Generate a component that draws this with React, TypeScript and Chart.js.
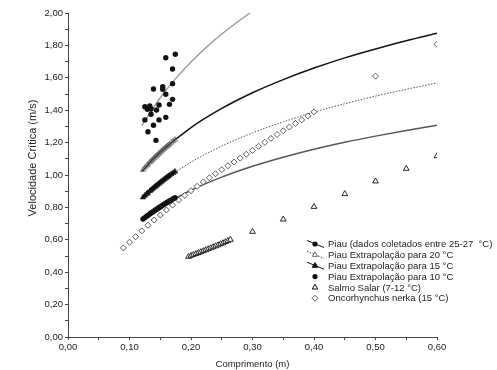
import React, { useEffect, useRef } from "react";
import { Chart, registerables } from "chart.js";

Chart.register(...registerables);

// ---------- data ----------
const legendLabels = [
  "Piau (dados coletados entre 25-27  °C)",
  "Piau Extrapolação para 20 °C",
  "Piau Extrapolação para 15 °C",
  "Piau Extrapolação para 10 °C",
  "Salmo Salar (7-12 °C)",
  "Oncorhynchus nerka (15 °C)",
];

const piauX = [0.159, 0.1745, 0.170, 0.170, 0.139, 0.154, 0.154, 0.159, 0.170, 0.165, 0.148, 0.125, 0.133, 0.129, 0.135, 0.144, 0.135, 0.125, 0.139, 0.148, 0.159, 0.130, 0.143];
const piauY = [1.724, 1.745, 1.654, 1.564, 1.531, 1.545, 1.529, 1.498, 1.467, 1.436, 1.432, 1.422, 1.426, 1.406, 1.407, 1.401, 1.375, 1.340, 1.307, 1.340, 1.356, 1.267, 1.214];

const piauFitX = [0.12, 0.15, 0.175, 0.2, 0.225, 0.25, 0.275, 0.296];
const piauFitY = [1.305, 1.477, 1.595, 1.698, 1.789, 1.870, 1.943, 2.0];

const clusterX = [0.122, 0.125, 0.128, 0.130, 0.133, 0.135, 0.137, 0.139, 0.141, 0.143, 0.145, 0.147, 0.149, 0.151, 0.153, 0.155, 0.157, 0.159, 0.161, 0.163, 0.165, 0.168, 0.171, 0.174];
const ext20Y = [1.032, 1.045, 1.058, 1.066, 1.078, 1.085, 1.093, 1.101, 1.108, 1.116, 1.123, 1.130, 1.137, 1.144, 1.151, 1.158, 1.164, 1.171, 1.178, 1.184, 1.190, 1.200, 1.209, 1.218];
const ext15Y = [0.862, 0.873, 0.884, 0.890, 0.901, 0.907, 0.914, 0.920, 0.927, 0.933, 0.939, 0.945, 0.951, 0.957, 0.963, 0.969, 0.975, 0.981, 0.987, 0.992, 0.998, 1.006, 1.013, 1.021];
const ext10Y = [0.728, 0.737, 0.745, 0.751, 0.759, 0.765, 0.770, 0.775, 0.781, 0.786, 0.791, 0.796, 0.801, 0.806, 0.811, 0.816, 0.821, 0.826, 0.831, 0.835, 0.840, 0.846, 0.853, 0.860];

const fitX = [0.12, 0.15, 0.2, 0.25, 0.3, 0.35, 0.4, 0.45, 0.5, 0.55, 0.6];
const fit20Y = [1.022, 1.140, 1.293, 1.411, 1.508, 1.589, 1.660, 1.723, 1.778, 1.829, 1.875];
const fit15Y = [0.852, 0.951, 1.079, 1.178, 1.260, 1.328, 1.388, 1.440, 1.487, 1.529, 1.568];
const fit10Y = [0.720, 0.801, 0.906, 0.987, 1.054, 1.110, 1.159, 1.202, 1.240, 1.275, 1.307];

const salmoX = [0.196, 0.200, 0.204, 0.208, 0.212, 0.216, 0.220, 0.224, 0.228, 0.232, 0.236, 0.240, 0.244, 0.248, 0.252, 0.256, 0.260, 0.264, 0.30, 0.35, 0.40, 0.45, 0.50, 0.55, 0.60];
const salmoY = [0.496, 0.502, 0.508, 0.513, 0.519, 0.525, 0.531, 0.537, 0.543, 0.549, 0.555, 0.561, 0.567, 0.574, 0.580, 0.587, 0.594, 0.601, 0.650, 0.726, 0.804, 0.883, 0.961, 1.039, 1.117];

const oncoX = [0.09, 0.10, 0.11, 0.12, 0.13, 0.14, 0.15, 0.16, 0.17, 0.18, 0.19, 0.20, 0.21, 0.22, 0.23, 0.24, 0.25, 0.26, 0.27, 0.28, 0.29, 0.30, 0.31, 0.32, 0.33, 0.34, 0.35, 0.36, 0.37, 0.38, 0.39, 0.40, 0.50, 0.60];
const oncoY = [0.550, 0.585, 0.619, 0.655, 0.690, 0.722, 0.753, 0.784, 0.814, 0.845, 0.874, 0.903, 0.930, 0.957, 0.983, 1.008, 1.033, 1.057, 1.080, 1.104, 1.128, 1.152, 1.177, 1.202, 1.226, 1.250, 1.273, 1.296, 1.318, 1.340, 1.365, 1.390, 1.610, 1.807];

const xMin = 0, xMax = 0.6, xStep = 0.05, xLabelStep = 0.1;
const yMin = 0, yMax = 2.0, yStep = 0.1, yLabelStep = 0.2;

// ---------- helpers ----------
const pts = (xs: number[], ys: number[]) => xs.map((x, i) => ({ x, y: ys[i] }));
const fmt = (v: number) => v.toFixed(2).replace(".", ",");
const isMult = (v: number, s: number) => Math.abs(v / s - Math.round(v / s)) < 1e-6;
const FONT = '"Liberation Sans", Arial, sans-serif';
const TEXT = "#222";

function drawTri(ctx: CanvasRenderingContext2D, x: number, y: number, r: number, fill: boolean) {
  ctx.beginPath();
  ctx.moveTo(x, y - r);
  ctx.lineTo(x + r * 0.866, y + r * 0.5);
  ctx.lineTo(x - r * 0.866, y + r * 0.5);
  ctx.closePath();
  if (fill) ctx.fill();
  ctx.stroke();
}

const legendPlugin = {
  id: "customLegend",
  afterDraw(chart: any) {
    const ctx: CanvasRenderingContext2D = chart.ctx;
    ctx.save();
    const ix = 315, tx = 328, y0 = 244, dy = 10.85;
    legendLabels.forEach((lab, i) => {
      const y = y0 + i * dy;
      ctx.strokeStyle = "#111";
      ctx.fillStyle = "#111";
      ctx.lineWidth = 1;
      ctx.setLineDash([]);
      if (i === 0) {
        ctx.beginPath(); ctx.moveTo(ix - 8, y - 3.5); ctx.lineTo(ix + 9, y + 3.5); ctx.stroke();
        ctx.beginPath(); ctx.arc(ix, y, 2.6, 0, Math.PI * 2); ctx.fill();
      } else if (i === 1) {
        ctx.strokeStyle = "#444";
        ctx.setLineDash([1.5, 1.5]);
        ctx.beginPath(); ctx.moveTo(ix - 8, y - 3.5); ctx.lineTo(ix + 9, y + 3.5); ctx.stroke();
        ctx.setLineDash([]);
        ctx.lineWidth = 0.8;
        ctx.fillStyle = "#fff";
        drawTri(ctx, ix, y, 3, true);
      } else if (i === 2) {
        ctx.beginPath(); ctx.moveTo(ix - 8, y - 3.5); ctx.lineTo(ix + 9, y + 3.5); ctx.stroke();
        drawTri(ctx, ix, y, 3.2, true);
      } else if (i === 3) {
        ctx.beginPath(); ctx.arc(ix, y, 2.6, 0, Math.PI * 2); ctx.fill();
      } else if (i === 4) {
        ctx.fillStyle = "#fff";
        drawTri(ctx, ix, y, 3.2, true);
      } else {
        ctx.fillStyle = "#fff";
        ctx.strokeStyle = "#333";
        ctx.lineWidth = 0.8;
        ctx.beginPath();
        ctx.moveTo(ix, y - 3); ctx.lineTo(ix + 3, y); ctx.lineTo(ix, y + 3); ctx.lineTo(ix - 3, y); ctx.closePath();
        ctx.fill(); ctx.stroke();
      }
      ctx.fillStyle = TEXT;
      ctx.font = `9.5px ${FONT}`;
      ctx.textAlign = "left";
      ctx.textBaseline = "middle";
      ctx.fillText(lab, tx, y + 0.5);
    });
    // y-axis title
    ctx.save();
    ctx.translate(33, 158);
    ctx.rotate(-Math.PI / 2);
    ctx.textAlign = "center";
    ctx.textBaseline = "middle";
    ctx.font = `11px ${FONT}`;
    ctx.fillStyle = TEXT;
    ctx.fillText("Velocidade Crítica (m/s)", 0, 0);
    ctx.restore();
    ctx.restore();
  },
};

export default function App() {
  const ref = useRef<HTMLCanvasElement>(null);
  useEffect(() => {
    if (!ref.current) return;
    const chart = new Chart(ref.current, {
      type: "scatter",
      data: {
        datasets: [
          { label: legendLabels[0], data: pts(piauX, piauY), pointStyle: "circle", pointRadius: 2.7, backgroundColor: "#111", borderColor: "#111", borderWidth: 0 },
          { label: legendLabels[1], data: pts(clusterX, ext20Y), pointStyle: "triangle", pointRadius: 3, backgroundColor: "rgba(0,0,0,0)", borderColor: "#555", borderWidth: 0.7 },
          { label: legendLabels[2], data: pts(clusterX, ext15Y), pointStyle: "triangle", pointRadius: 3.2, backgroundColor: "#111", borderColor: "#111", borderWidth: 0.5 },
          { label: legendLabels[3], data: pts(clusterX, ext10Y), pointStyle: "circle", pointRadius: 2.7, backgroundColor: "#111", borderColor: "#111", borderWidth: 0 },
          { label: legendLabels[4], data: pts(salmoX, salmoY), pointStyle: "triangle", pointRadius: 3.3, backgroundColor: "#fff", borderColor: "#111", borderWidth: 0.9 },
          { label: legendLabels[5], data: pts(oncoX, oncoY), pointStyle: "rectRot", pointRadius: 3, backgroundColor: "#fff", borderColor: "#333", borderWidth: 0.8 },
          { label: "fit25", data: pts(piauFitX, piauFitY), showLine: true, pointRadius: 0, borderColor: "#9a9a9a", borderWidth: 1.4, cubicInterpolationMode: "monotone" },
          { label: "fit20", data: pts(fitX, fit20Y), showLine: true, pointRadius: 0, borderColor: "#111", borderWidth: 1.5, cubicInterpolationMode: "monotone" },
          { label: "fit15", data: pts(fitX, fit15Y), showLine: true, pointRadius: 0, borderColor: "#555", borderWidth: 1, borderDash: [1.5, 1.5], cubicInterpolationMode: "monotone" },
          { label: "fit10", data: pts(fitX, fit10Y), showLine: true, pointRadius: 0, borderColor: "#555", borderWidth: 1.5, cubicInterpolationMode: "monotone" },
        ] as any,
      },
      options: {
        responsive: false,
        animation: false,
        devicePixelRatio: 1,
        layout: { padding: { left: 0, top: 13, right: 60, bottom: 0 } },
        plugins: { legend: { display: false }, tooltip: { enabled: false } },
        scales: {
          x: {
            type: "linear",
            min: xMin,
            max: xMax,
            afterFit: (s: any) => { s.height = 33; },
            grid: { display: true, drawOnChartArea: false, drawTicks: true, tickLength: 3, tickColor: "#444" },
            border: { display: true, color: "#444", width: 1 },
            ticks: {
              stepSize: xStep,
              autoSkip: false,
              maxRotation: 0,
              padding: 2,
              color: TEXT,
              font: { size: 9.5, family: FONT },
              callback: (v: any) => (isMult(Number(v), xLabelStep) ? fmt(Number(v)) : ""),
            },
            title: { display: true, text: "Comprimento (m)", color: TEXT, font: { size: 9.5, family: FONT }, padding: { top: 0, bottom: 0 } },
          },
          y: {
            type: "linear",
            min: yMin,
            max: yMax,
            afterFit: (s: any) => { s.width = 68; },
            grid: { display: true, drawOnChartArea: false, drawTicks: true, tickLength: 3, tickColor: "#444" },
            border: { display: true, color: "#444", width: 1 },
            ticks: {
              stepSize: yStep,
              autoSkip: false,
              padding: 2,
              color: TEXT,
              font: { size: 9.5, family: FONT },
              callback: (v: any) => (isMult(Number(v), yLabelStep) ? fmt(Number(v)) : ""),
            },
          },
        },
      } as any,
      plugins: [legendPlugin],
    });
    return () => chart.destroy();
  }, []);
  return (
    <div style={{ position: "fixed", left: 0, top: 0, width: 497, height: 370, background: "#fff" }}>
      <canvas ref={ref} width={497} height={370} style={{ width: 497, height: 370, display: "block" }} />
    </div>
  );
}
